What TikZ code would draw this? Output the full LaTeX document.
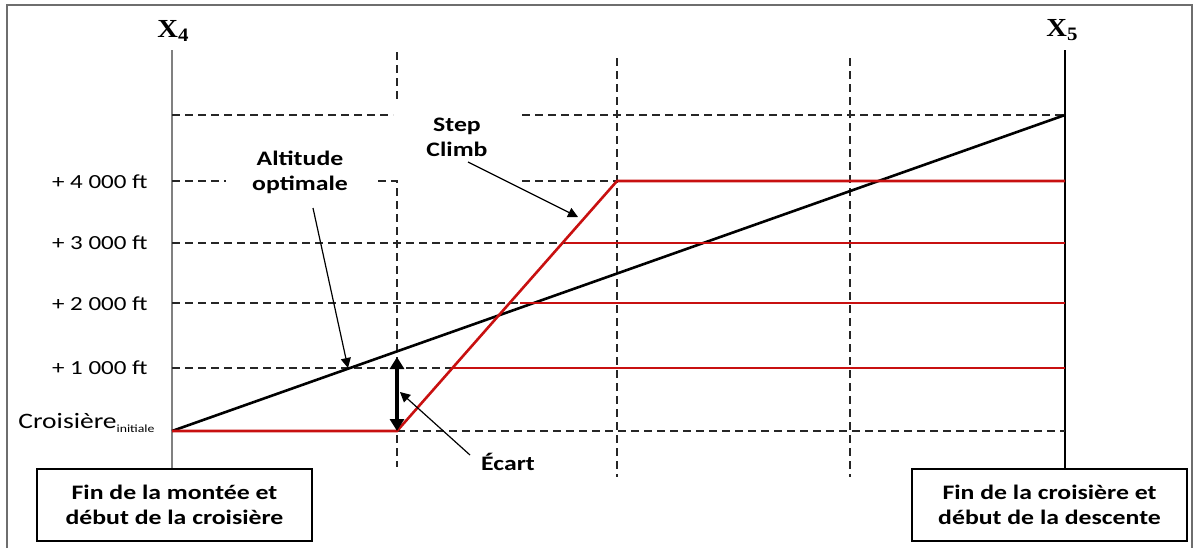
\documentclass[tikz,border=0pt]{standalone}
\usepackage{fontspec}
\setmainfont{Carlito}[FakeStretch=1.25]
\newfontfamily\xfont{Liberation Serif}[FakeStretch=1.1]
\usetikzlibrary{arrows.meta}
\definecolor{myred}{RGB}{200,16,16}
\definecolor{frame}{RGB}{110,110,110}
\begin{document}
\begin{tikzpicture}[x=0.5pt,y=-0.5pt,
  gridl/.style={black!85, line width=0.6pt, dash pattern=on 4pt off 2.5pt},
  redl/.style={myred, line width=1.3pt},
  optl/.style={black, line width=1.3pt},
  lbl/.style={font=\fontsize{10.3}{12.5}\selectfont\bfseries, align=center, inner sep=0pt},
  ticklbl/.style={font=\fontsize{10}{12}\selectfont, anchor=east, inner sep=0pt},
  endbox/.style={draw, line width=0.8pt, minimum width=137.5pt, minimum height=36pt, align=center, inner sep=0pt, font=\fontsize{10.3}{12.8}\selectfont\bfseries},
  ptr/.style={-{Triangle[length=5pt,width=5pt]}, line width=0.6pt},
  axlbl/.style={font=\xfont\bfseries\fontsize{13}{15}\selectfont, inner sep=0pt}
]
\useasboundingbox (0,0) rectangle (1194,548);
% frame
\draw[frame, line width=1pt] (7,548) -- (7,5) -- (1192,5) -- (1192,548);

% axis labels
\node[axlbl] (x4) at (173,31) {X\raisebox{-0.35ex}{\fontsize{9.5}{10}\selectfont 4}};
\node[axlbl] (x5) at (1062,30) {X\raisebox{-0.35ex}{\fontsize{9.5}{10}\selectfont 5}};

% boxes
\node[endbox] (b1) at (174.5,505) {Fin de la montée et\\début de la croisière};
\node[endbox] (b2) at (1049.5,505) {Fin de la croisière et\\début de la descente};

% axes
\coordinate (a4) at (172,50);
\coordinate (a5) at (1065,50);
\draw[gray, line width=1.1pt] (a4) -- (a4 |- b1.north);
\draw[black, line width=0.8pt] (a5) -- (a5 |- b2.north);

% dashed grid
\draw[gridl] (172,115) -- (393,115);
\draw[gridl] (522,115) -- (1065,115);
\draw[gridl] (172,181) -- (226,181);
\draw[gridl] (378,181) -- (397,181) -- (397,467);
\draw[gridl] (522,181) -- (617,181);
\draw[gridl] (172,243) -- (565,243);
\draw[gridl] (172,303) -- (520,303);
\draw[gridl] (172,368) -- (452,368);
\draw[gridl] (397,431) -- (1065,431);
\draw[gridl] (397,52) -- (397,100);
\draw[gridl] (617,58) -- (617,477);
\draw[gridl] (850,58) -- (850,477);

% tick labels
\node[ticklbl] (t4) at (148,182) {+ 4 000 ft};
\node[ticklbl] (t3) at (148,243) {+ 3 000 ft};
\node[ticklbl] (t2) at (148,304) {+ 2 000 ft};
\node[ticklbl] (t1) at (148,368) {+ 1 000 ft};
\node[font=\fontsize{11}{12}\selectfont, anchor=base west, inner sep=0pt] (t0) at (18,428) {Croisière\raisebox{-0.4ex}{\fontsize{5.5}{6}\selectfont initiale}};

% optimal altitude line
\coordinate (o0) at (172,431);
\coordinate (o5) at (1065,115);
\draw[optl] (o0) -- (o5);

% red step climb
\coordinate (r0) at (397,431);
\coordinate (r4) at (617,181);
\draw[redl] (o0) -- (r0) -- (r4) -- (a5 |- r4);
\draw[redl] (565,243) -- (1065,243);
\draw[redl] (520,303) -- (1065,303);
\draw[redl] (452,368) -- (1065,368);

% labels and pointers
\node[lbl] (alt) at (300,172) {Altitude\\optimale};
\node[lbl] (sc) at (457,137) {Step\\Climb};
\node[lbl] (ec) at (508,462) {Écart};

\coordinate (altp) at (348,368);
\coordinate (scp) at (578,217);
\coordinate (ecp) at (400,392);
\coordinate (ect) at (397,357);
\draw[ptr] (313,208) -- (altp);
\draw[ptr] (468,162) -- (scp);
\draw[ptr] (470,455) -- (ecp);
\draw[{Triangle[length=6pt,width=7pt]}-{Triangle[length=6pt,width=7pt]}, line width=2pt] (ect) -- (r0);
\end{tikzpicture}
\end{document}
